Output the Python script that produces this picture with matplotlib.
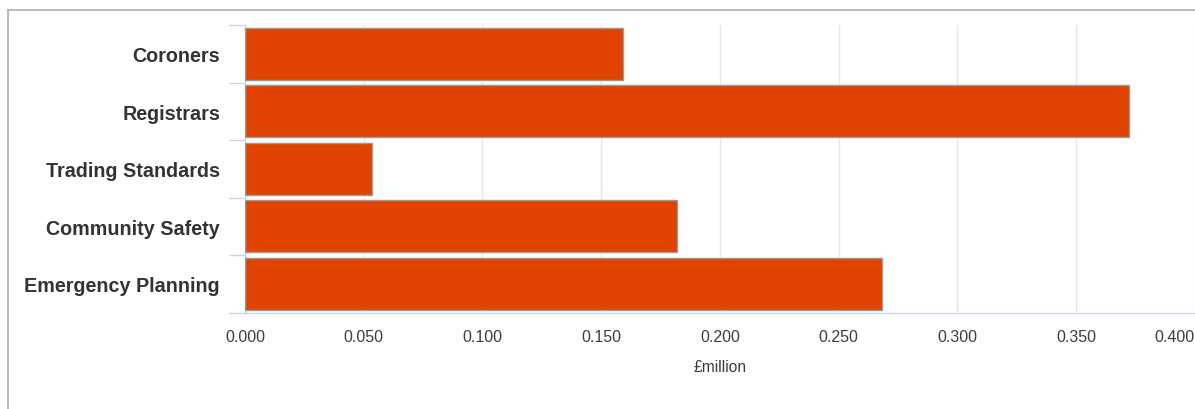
import matplotlib
matplotlib.use("Agg")
import matplotlib.pyplot as plt  # noqa: E402
from matplotlib.lines import Line2D  # noqa: E402
import numpy as np  # noqa: E402

categories = ["Coroners", "Registrars", "Trading Standards",
              "Community Safety", "Emergency Planning"]
values = [0.1594, 0.3723, 0.0536, 0.1821, 0.2684]
x_ticks = [0.0, 0.05, 0.10, 0.15, 0.20, 0.25, 0.30, 0.35, 0.40]
x_label = "£million"

plt.rcParams["font.family"] = ["Liberation Sans", "DejaVu Sans"]

W, H = 1195, 410
fig = plt.figure(figsize=(W / 100, H / 100), dpi=100)
ax = fig.add_axes([245 / W, 1 - 313.5 / H, (1194.7 - 245) / W, (313.5 - 26) / H])

y = np.arange(len(categories))
ax.barh(y, values, height=0.9, color="#e04400", edgecolor="#9a9a9a",
        linewidth=1.0, zorder=3)
ax.set_ylim(len(categories) - 0.5, -0.5)
ax.set_xlim(0, 0.4)

ax.set_yticks(y)
ax.set_yticklabels(categories, fontsize=14.2, fontweight="bold", color="#333333")
ax.set_yticks(np.arange(-0.5, len(categories)), minor=True)
ax.tick_params(axis="y", which="major", length=0, pad=18)
ax.tick_params(axis="y", which="minor", length=11.5, width=1, color="#ccd6eb")

ax.set_xticks(x_ticks)
ax.set_xticklabels([f"{v:.3f}" for v in x_ticks], fontsize=11.5, color="#3c3c3c")
ax.tick_params(axis="x", length=0, pad=12)
ax.get_xticklabels()[-1].set_horizontalalignment("right")
ax.set_xlabel(x_label, fontsize=11.2, color="#3c3c3c", labelpad=11)

ax.grid(axis="x", color="#e6e6e6", linewidth=1.0, zorder=0)
for s in ("top", "right"):
    ax.spines[s].set_visible(False)
for s in ("left", "bottom"):
    ax.spines[s].set_color("#ccd6eb")
    ax.spines[s].set_linewidth(1.0)

# outer frame
fig.add_artist(Line2D([7.5 / W, 7.5 / W], [0, 1 - 11 / H], color="#b4b4b4", lw=1.3))
fig.add_artist(Line2D([7.5 / W, 1], [1 - 11 / H, 1 - 11 / H], color="#b4b4b4", lw=1.3))

fig.savefig("out.png", dpi=100)
